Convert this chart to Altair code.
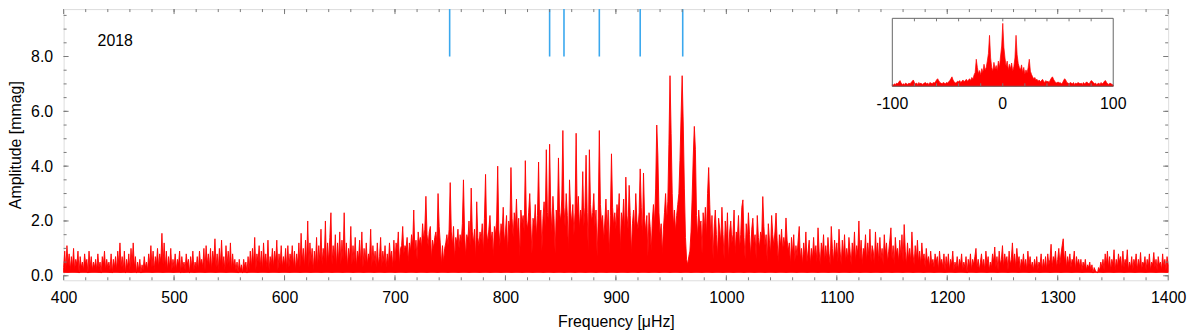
import altair as alt
import pandas as pd

# ---- amplitude spectrum, 1 uHz steps (mmag) ----
amp_0400 = [0.3,0.9,0.2,1.1,0.4,0.8,0.2,0.7,0.3,1.0,
            0.2,0.6,0.4,0.9,0.1,0.7,0.3,0.5,0.2,0.8,
            0.4,0.6,0.1,0.9,0.3,0.7,0.2,0.5,0.3,0.6,
            0.2,0.8,0.3,0.5,0.1,0.7,0.4,0.9,0.2,0.6,
            0.3,0.5,0.2,0.8,0.1,0.6,0.3,0.7,0.2,0.9,
            0.4,1.2,0.3,0.7,0.2,0.9,0.1,0.6,0.3,0.8,
            0.2,1.0,0.4,1.2,0.3,0.7,0.1,0.5,0.2,0.6,
            0.1,0.4,0.2,0.7,0.3,0.5,0.2,0.8,0.4,1.1,
            0.3,0.9,0.2,0.7,0.4,1.0,0.3,0.8,0.5,1.55,
            0.4,1.2,0.3,0.9,0.2,0.7,0.3,1.0,0.2,0.6]
amp_0500 = [0.3,0.8,0.2,0.6,0.4,0.9,0.1,0.7,0.3,0.5,
            0.2,0.8,0.4,0.6,0.1,0.7,0.3,0.9,0.2,0.5,
            0.3,0.7,0.2,0.9,0.4,0.6,0.3,1.0,0.2,1.1,
            0.4,0.8,0.3,1.0,0.2,0.9,0.5,1.35,0.3,0.8,
            0.2,1.0,0.4,1.3,0.3,0.7,0.2,1.1,0.4,0.9,
            0.3,1.2,0.2,0.8,0.3,0.6,0.2,0.5,0.1,0.6,
            0.2,0.4,0.1,0.6,0.3,0.5,0.1,0.7,0.2,0.9,
            0.3,1.0,0.4,1.4,0.2,0.8,0.5,1.1,0.3,0.9,
            0.2,1.2,0.4,0.8,0.3,1.3,0.2,0.7,0.4,1.0,
            0.3,0.9,0.5,1.3,0.2,0.8,0.4,1.1,0.3,0.7]
amp_0600 = [0.4,1.0,0.2,1.1,0.3,0.8,0.5,1.1,0.3,0.9,
            0.2,0.8,0.4,1.2,0.3,1.55,0.5,1.0,0.3,1.3,
            0.4,2.0,0.3,1.2,0.5,1.0,0.2,0.9,0.4,1.4,
            0.3,1.1,0.5,1.7,0.4,1.0,0.6,2.0,0.3,1.2,
            0.5,1.4,2.3,0.4,1.1,0.6,1.5,0.3,1.2,0.5,
            1.6,0.4,1.3,0.6,2.3,0.5,1.2,0.3,1.0,0.6,
            1.8,0.4,1.1,0.5,1.4,0.3,0.9,0.6,1.3,0.4,
            1.6,0.3,1.0,0.5,1.2,0.4,0.8,0.6,1.7,0.3,
            1.1,0.5,0.9,0.3,1.2,0.4,0.7,1.4,0.3,0.9,
            0.5,1.1,0.3,0.8,0.4,1.2,0.6,0.9,0.3,1.3]
amp_0700 = [0.5,1.2,0.9,1.6,0.4,1.0,1.1,1.8,0.8,1.1,
            1.0,1.4,0.5,1.2,0.9,1.5,1.1,2.4,0.9,1.3,
            0.6,1.6,1.2,1.4,1.0,1.9,1.3,1.7,2.9,1.5,
            1.1,1.6,1.8,0.6,1.3,1.0,1.4,1.6,1.2,3.0,
            1.8,1.2,0.4,1.1,0.5,1.0,1.2,1.5,1.1,1.7,
            3.4,1.6,1.1,1.8,0.6,1.4,1.2,1.7,1.0,1.5,
            1.2,1.9,3.5,1.6,0.7,1.5,1.3,2.0,1.1,3.2,
            1.6,1.2,1.7,0.6,2.7,1.4,1.1,1.6,1.3,1.9,
            0.8,2.1,3.7,1.6,1.2,1.7,2.2,1.3,1.6,0.7,
            1.8,1.5,2.0,4.0,1.7,1.1,1.9,1.6,2.5,1.2]
amp_0800 = [1.6,2.2,0.8,2.0,1.7,3.95,2.1,1.4,2.3,1.8,
            2.8,1.5,2.1,0.7,2.4,1.9,2.2,1.6,4.2,2.0,
            1.7,2.3,3.0,1.9,0.8,2.1,1.8,2.6,1.4,2.2,
            4.15,1.9,2.4,0.9,2.1,2.7,1.8,4.6,2.3,2.0,
            4.8,2.5,1.6,2.9,2.1,0.8,2.4,1.9,4.3,2.3,
            2.0,2.8,5.3,2.5,1.8,3.0,2.2,0.9,3.5,2.4,
            1.9,2.6,1.5,2.3,5.2,2.2,2.9,1.7,2.4,2.0,
            3.8,1.8,2.5,4.4,2.3,0.9,4.6,2.6,2.0,2.3,
            3.0,1.8,2.4,0.7,2.1,5.3,2.6,1.9,2.2,1.3,
            2.0,2.8,1.6,2.4,0.8,2.2,4.45,2.5,1.8,2.3]
amp_0900 = [1.7,2.6,2.1,3.0,0.9,2.3,1.9,2.8,1.5,3.6,
            2.2,1.7,3.3,2.2,0.8,1.9,2.4,1.6,3.0,2.0,
            1.7,2.3,3.9,2.5,1.4,3.75,2.1,1.6,2.2,0.7,
            2.3,1.8,0.9,2.0,2.6,1.9,3.2,5.5,4.4,2.3,
            1.5,1.9,0.8,1.7,2.3,3.0,2.0,2.7,4.8,7.3,
            5.2,3.0,1.8,2.4,1.6,2.2,2.6,3.0,4.2,5.8,
            7.3,5.5,3.2,1.4,0.6,0.4,0.7,0.9,1.6,2.8,
            4.3,5.45,4.6,2.2,1.4,2.4,1.8,2.0,0.8,2.3,
            1.7,2.5,1.4,3.0,3.95,2.6,1.3,2.2,0.6,1.8,
            2.4,1.5,0.7,2.1,1.7,1.2,2.5,1.5,0.6,2.0]
amp_1000 = [1.3,2.3,0.6,1.6,2.0,1.2,1.5,2.4,0.8,1.6,
            1.4,2.2,1.0,1.5,2.5,2.77,1.4,0.6,1.9,1.3,
            2.3,1.5,0.7,1.7,2.1,1.2,1.5,0.6,2.2,1.4,
            1.0,1.6,1.4,2.89,1.8,1.1,1.5,0.5,1.9,1.3,
            0.8,2.2,1.5,1.1,1.6,2.29,1.3,0.5,1.5,1.1,
            1.7,0.9,1.4,1.1,2.11,1.3,0.9,1.2,0.4,1.4,
            0.8,1.5,0.5,1.1,0.7,1.3,1.8,0.6,1.0,0.4,
            1.2,0.7,1.6,0.5,0.9,1.3,0.4,1.0,0.6,1.4,
            0.7,1.1,0.5,1.75,0.9,0.4,1.2,0.8,1.5,0.5,
            1.1,0.6,1.4,0.8,0.4,1.8,1.0,0.5,1.3,0.7]
amp_1100 = [1.2,0.5,1.7,0.9,0.4,1.3,0.7,1.5,0.5,1.0,
            0.6,1.4,0.9,0.4,1.2,0.7,1.6,0.5,1.1,0.8,
            2.0,0.6,1.3,0.4,1.0,0.8,1.5,0.5,1.2,0.7,
            1.7,0.5,1.1,0.9,0.4,1.6,0.7,1.2,0.5,1.4,
            0.6,1.0,0.4,1.5,0.8,1.2,0.5,0.9,1.3,1.75,
            0.6,1.1,0.4,1.4,0.8,1.0,0.5,1.3,0.7,1.5,
            0.5,1.87,0.9,0.4,1.2,0.6,1.0,0.5,1.6,0.8,
            0.4,1.1,0.6,1.3,0.5,0.9,0.4,1.2,0.6,0.8,
            0.3,1.0,0.5,0.7,0.3,0.9,0.4,0.6,0.3,0.8,
            0.5,0.7,0.2,0.9,0.4,0.6,0.3,0.8,0.2,0.7]
amp_1200 = [0.3,0.8,0.2,0.6,0.4,0.9,0.2,0.5,0.3,0.7,
            0.2,0.6,0.4,0.8,0.2,0.5,0.3,0.7,0.1,0.6,
            0.3,0.8,0.2,0.6,0.4,0.7,1.0,0.3,0.6,0.2,
            0.5,0.8,0.3,0.6,0.2,0.9,0.4,0.7,0.2,0.5,
            0.3,0.8,0.5,1.05,0.3,0.7,0.2,0.9,0.4,0.6,
            1.1,0.3,0.8,0.5,0.7,0.2,0.9,0.4,0.6,1.2,
            0.4,0.8,0.3,1.0,0.5,0.7,0.2,0.6,0.4,0.8,
            0.3,0.6,0.2,0.9,0.4,0.7,0.3,0.5,0.2,0.6,
            0.3,0.7,0.2,0.5,0.4,0.8,0.2,0.6,0.3,0.7,
            0.2,0.8,0.4,0.6,1.15,0.3,0.7,0.5,0.9,0.3]
amp_1300 = [0.6,1.0,0.4,0.8,1.1,1.35,0.5,0.9,0.3,0.7,
            0.4,0.8,0.3,0.6,0.5,0.9,0.2,0.7,0.4,0.6,
            0.3,0.6,0.2,0.5,0.3,0.6,0.2,0.4,0.3,0.5,
            0.2,0.4,0.1,0.3,0.2,0.15,0.1,0.3,0.2,0.5,
            0.3,0.6,0.2,0.8,0.4,0.9,0.3,0.7,0.2,0.6,
            0.4,0.95,0.2,0.6,0.3,0.8,0.5,0.7,0.2,0.9,
            0.3,0.6,0.4,0.95,0.2,0.5,0.3,0.7,0.2,0.6,
            0.4,0.8,0.2,0.6,0.3,0.85,0.2,0.5,0.4,0.7,
            0.2,0.6,0.3,0.8,0.2,0.5,0.4,0.85,0.3,0.6,
            0.2,0.7,0.4,0.5,0.2,0.8,0.3,0.6,0.2,0.7]
amp_1400 = [0.4]

spec_amp = (amp_0400 + amp_0500 + amp_0600 + amp_0700 + amp_0800 +
            amp_0900 + amp_1000 + amp_1100 + amp_1200 + amp_1300 + amp_1400)
spec_freq = list(range(400, 400 + len(spec_amp)))

# ---- marked mode frequencies (uHz) ----
mode_freqs = [749.5, 840.0, 853.0, 885.0, 922.0, 960.5]

# ---- spectral window (inset), offset -100..100 uHz, relative amplitude ----
win_amp = [0.03,0.02,0.04,0.03,0.05,0.04,0.07,0.09,0.05,0.03,
           0.04,0.03,0.05,0.04,0.03,0.05,0.04,0.06,0.08,0.10,
           0.06,0.04,0.05,0.03,0.06,0.04,0.05,0.03,0.04,0.05,
           0.06,0.04,0.05,0.03,0.06,0.05,0.04,0.06,0.05,0.07,
           0.10,0.12,0.09,0.06,0.05,0.04,0.06,0.05,0.04,0.06,
           0.05,0.07,0.09,0.12,0.15,0.10,0.07,0.05,0.06,0.08,
           0.07,0.09,0.06,0.08,0.10,0.07,0.09,0.11,0.08,0.10,
           0.12,0.09,0.14,0.11,0.18,0.22,0.43,0.30,0.20,0.25,
           0.18,0.28,0.22,0.35,0.26,0.30,0.40,0.52,0.81,0.45,
           0.30,0.24,0.38,0.27,0.33,0.25,0.40,0.30,0.48,0.64,
           1.00,
           0.62,0.45,0.32,0.40,0.26,0.35,0.28,0.37,0.24,0.31,
           0.45,0.81,0.50,0.36,0.30,0.26,0.34,0.22,0.30,0.19,
           0.26,0.21,0.30,0.43,0.24,0.19,0.15,0.12,0.14,0.10,
           0.11,0.08,0.10,0.07,0.09,0.11,0.08,0.06,0.09,0.07,
           0.08,0.06,0.10,0.13,0.15,0.11,0.08,0.06,0.05,0.07,
           0.05,0.06,0.04,0.05,0.09,0.12,0.10,0.06,0.05,0.04,
           0.06,0.05,0.04,0.06,0.03,0.05,0.04,0.06,0.05,0.04,
           0.05,0.03,0.06,0.04,0.05,0.07,0.05,0.04,0.06,0.09,
           0.08,0.06,0.04,0.05,0.03,0.04,0.05,0.03,0.06,0.04,
           0.05,0.08,0.09,0.06,0.04,0.03,0.05,0.04,0.03,0.02]
win_freq = list(range(-100, -100 + len(win_amp)))

# ---- tick lists ----
x_major = [400, 500, 600, 700, 800, 900, 1000, 1100, 1200, 1300, 1400]
x_minor = list(range(420, 1400, 20))
y_major = [0, 2, 4, 6, 8]
y_minor = [0.5 * k for k in range(20)]
win_label_pos = [-100, 0, 100]
win_label_txt = ["-100", "0", "100"]
win_minor = list(range(-80, 100, 20))
year_label = ["2018"]

W, H = 1112, 273
FONT = "Liberation Sans"
GRAY = "#7a7a7a"
RED = "#ff0000"

xs = alt.Scale(domain=[400, 1400], nice=False, zero=False)
ys = alt.Scale(domain=[-0.163, 9.73], nice=False, zero=False)
xi = alt.Scale(domain=[-100, 100], range=[834.3, 1056.7], nice=False, zero=False)
yi = alt.Scale(domain=[0, 1.08], range=[77.7, 9.3], nice=False, zero=False)

df_spec = pd.DataFrame({"f": spec_freq, "a": spec_amp})

spec = alt.Chart(df_spec).mark_area(
    color=RED, stroke=RED, strokeWidth=0.9, opacity=1).encode(
    x=alt.X("f:Q", scale=xs, axis=alt.Axis(
        values=x_major, format="d", title="Frequency [μHz]", grid=False,
        ticks=False, domain=False, labelFont=FONT, labelFontSize=16,
        labelColor="black", labelPadding=9, labelFlush=False,
        titleFont=FONT, titleFontSize=16, titleFontWeight="normal",
        titleColor="black", titlePadding=9)),
    y=alt.Y("a:Q", scale=ys, axis=alt.Axis(
        values=y_major, format=".1f", title="Amplitude [mmag]", grid=False,
        ticks=False, domain=False, labelFont=FONT, labelFontSize=16,
        labelColor="black", labelPadding=11, labelBaseline="middle",
        labelFlush=False,
        titleFont=FONT, titleFontSize=16, titleFontWeight="normal",
        titleColor="black", titlePadding=7)),
    y2=alt.datum(0.12),
)

modes = alt.Chart(pd.DataFrame({"f": mode_freqs, "top": [9.73] * 6,
                                "bot": [8.0] * 6})).mark_rule(
    color="#3aa8ee", strokeWidth=1.6).encode(
    x=alt.X("f:Q", scale=xs, axis=None),
    y=alt.Y("bot:Q", scale=ys, axis=None),
    y2="top:Q",
)

def xticks(vals, length):
    d = pd.DataFrame({"t": vals})
    base = alt.Chart(d).mark_rule(color=GRAY, strokeWidth=1)
    bot = base.encode(x=alt.X("t:Q", scale=xs, axis=None),
                      y=alt.value(H), y2=alt.value(H - length))
    top = base.encode(x=alt.X("t:Q", scale=xs, axis=None),
                      y=alt.value(0), y2=alt.value(length))
    return [bot, top]

def yticks(vals, length):
    d = pd.DataFrame({"t": vals})
    base = alt.Chart(d).mark_rule(color=GRAY, strokeWidth=1)
    left = base.encode(y=alt.Y("t:Q", scale=ys, axis=None),
                       x=alt.value(0), x2=alt.value(length))
    right = base.encode(y=alt.Y("t:Q", scale=ys, axis=None),
                        x=alt.value(W), x2=alt.value(W - length))
    return [left, right]

year = alt.Chart(pd.DataFrame({"label": year_label})).mark_text(
    font=FONT, fontSize=16, color="black", align="center", baseline="middle"
).encode(text="label:N", x=alt.value(52), y=alt.value(32))

# ---- inset ----
df_win = pd.DataFrame({"u": win_freq, "v": win_amp})
win_line = alt.Chart(df_win).mark_area(
    color=RED, stroke=RED, strokeWidth=0.7).encode(
    x=alt.X("u:Q", scale=xi, axis=None),
    y=alt.Y("v:Q", scale=yi, axis=None),
    y2=alt.datum(0.0),
)
win_box = alt.Chart(pd.DataFrame({"x0": [-100], "x1": [100],
                                  "y0": [0.0], "y1": [1.08]})).mark_rect(
    fill="white", fillOpacity=0, stroke="#666666", strokeWidth=1).encode(
    x=alt.X("x0:Q", scale=xi, axis=None), x2="x1:Q",
    y=alt.Y("y0:Q", scale=yi, axis=None), y2="y1:Q",
)
wt = pd.DataFrame({"t": win_minor})
win_ticks_top = alt.Chart(wt).mark_rule(color=GRAY, strokeWidth=1).encode(
    x=alt.X("t:Q", scale=xi, axis=None), y=alt.value(9.3), y2=alt.value(12.3))
win_ticks_bot = alt.Chart(wt).mark_rule(color=GRAY, strokeWidth=1).encode(
    x=alt.X("t:Q", scale=xi, axis=None), y=alt.value(77.7), y2=alt.value(74.7))
win_text = alt.Chart(pd.DataFrame({"t": win_label_pos, "s": win_label_txt})).mark_text(
    font=FONT, fontSize=16, color="black", align="center", baseline="middle"
).encode(x=alt.X("t:Q", scale=xi, axis=None), text="s:N", y=alt.value(95.5))

layers = [spec, modes, *xticks(x_minor, 3), *xticks(x_major, 5),
          *yticks(y_minor, 3), *yticks(y_major, 5), year,
          win_line, win_ticks_top, win_ticks_bot, win_box, win_text]

chart = alt.layer(*layers).resolve_scale(
    x="independent", y="independent"
).properties(
    width=W, height=H,
    padding={"left": 56, "top": 0, "right": 24, "bottom": 52},
    autosize=alt.AutoSizeParams(type="none"),
).configure_view(stroke=GRAY, strokeWidth=1.2).configure(background="white")

chart.save("out.html", embed_options={"renderer": "svg", "actions": False})
